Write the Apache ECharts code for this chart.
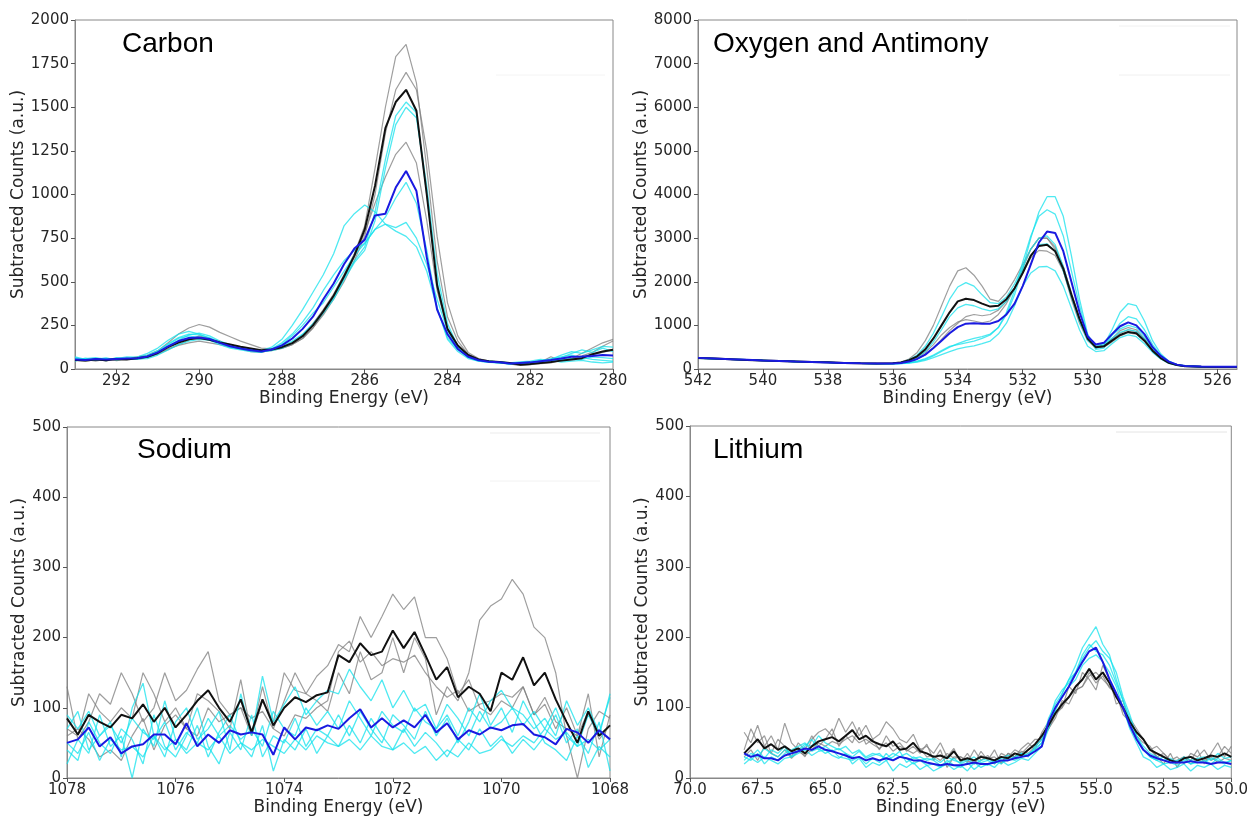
<!DOCTYPE html>
<html>
<head>
<meta charset="utf-8">
<title>XPS spectra</title>
<script src="https://cdn.jsdelivr.net/npm/echarts@6/dist/echarts.min.js"></script>
<style>
  html, body { margin: 0; padding: 0; background: #fff; }
  #chart { width: 1251px; height: 818px; }
</style>
</head>
<body>
<div id="chart"></div>
<script>
// ---- Carbon ----
const carbonX = [293,292.75,292.5,292.25,292,291.75,291.5,291.25,291,290.75,290.5,290.25,290,289.75,289.5,289.25,289,288.75,288.5,288.25,288,287.75,287.5,287.25,287,286.75,286.5,286.25,286,285.75,285.5,285.25,285,284.75,284.5,284.25,284,283.75,283.5,283.25,283,282.75,282.5,282.25,282,281.75,281.5,281.25,281,280.75,280.5,280.25,280];
const carbonGray1 = [55,50,60,45,62,58,70,80, 105,150,200,235, 255,240,210,185, 160,140,120,115, 130,150,190,260, 340,430,540,660, 820,1150,1500,1790, 1860,1640,1150,620, 300,160,85,50, 40,35,30,20, 25,40,70,45, 60,90,120,150, 170];
const carbonGray2 = [48,55,45,58,50,62,55,65, 85,110,140,165, 190,175,160,130, 115,100,95,110, 120,140,175,235, 310,400,500,620, 760,1000,1350,1600, 1700,1600,1250,760, 380,190,95,60, 45,38,30,28, 30,38,45,55, 60,75,95,130, 160];
const carbonGray3 = [50,45,52,60,48,55,65,72, 90,115,135,150, 160,150,140,125, 118,105,98,105, 118,140,175,235, 320,410,520,640, 780,950,1100,1230, 1300,1180,850,450, 230,130,75,50, 42,35,28,22, 25,30,35,50, 55,70,80,95, 110];
const carbonCyan1 = [70,55,60,48,65,58,55,68, 90,130,165,195, 205,190,160,140, 125,110,100,110, 130,160,200,260, 330,410,520,620, 700,900,1200,1450, 1530,1470,1000,500, 230,120,70,50, 42,38,30,35, 30,40,55,80, 100,90,110,130, 125];
const carbonCyan2 = [45,62,50,58,55,62,58,60, 80,110,140,160, 170,165,150,130, 120,110,100,105, 120,150,195,250, 320,400,510,610, 680,850,1150,1400, 1500,1440,1050,550, 260,130,75,50, 45,40,35,30, 38,45,50,65, 90,110,95,120, 100];
const carbonCyan3 = [60,50,55,62,52,58,65,75, 100,140,175,190, 180,165,140,120, 110,100,95,115, 150,200,270,350, 450,540,620,680, 720,800,870,980, 1070,950,680,350, 170,100,60,45, 40,35,30,35, 40,50,45,55, 60,55,70,65, 60];
const carbonCyan4 = [55,60,65,55,60,70,68,90, 120,165,200,215, 200,175,150,130, 120,110,105,125, 170,250,340,440, 540,660,820,890, 940,900,830,790, 760,700,560,350, 180,110,70,50, 45,40,35,40, 45,55,50,40, 45,50,40,35, 40];
const carbonCyan5 = [65,50,58,62,55,60,62,78, 105,145,180,200, 195,180,150,125, 115,105,100,115, 140,190,250,320, 380,470,560,650, 720,800,830,810, 840,750,600,400, 220,120,65,45, 38,35,30,32, 35,45,60,70, 80,65,55,50, 45];
const carbonBlack = [52,48,55,50,57,55,62,70, 92,125,152,170, 178,168,152,140, 128,118,108,112, 125,148,188,250, 330,420,530,650, 800,1050,1380,1530, 1600,1480,1000,480, 230,135,80,55, 45,40,35,25, 28,35,40,48, 55,62,85,100, 110];
const carbonBlue = [55,52,57,55,58,60,62,72, 95,130,160,178, 180,172,150,130, 118,108,100,112, 135,175,230,300, 400,490,600,690, 740,880,890,1040, 1135,1020,640,340, 200,115,70,50, 42,38,32,35, 38,45,52,60, 70,72,75,80, 78];
const carbonTicks = [280, 282, 284, 286, 288, 290, 292];

// ---- Oxygen and Antimony ----
const oxygenX = [542,541.5,541,540.5,540,539.5,539,538.5,538,537.5,537,536.5, 536,535.75,535.5,535.25, 535,534.75,534.5,534.25, 534,533.75,533.5,533.25, 533,532.75,532.5,532.25, 532,531.75,531.5,531.25, 531,530.75,530.5,530.25, 530,529.75,529.5,529.25, 529,528.75,528.5,528.25, 528,527.75,527.5,527.25, 527,526.5,526,525.4];
const oxygenGray1 = [245,230,225,200,190,185,168,158,150,142,130,125, 135,160,230,380, 650,1000,1450,1900, 2250,2320,2150,1900, 1600,1550,1750,2050, 2400,2750,3000,3000, 2800,2350,1750,1150, 700,520,540,680, 820,900,860,680, 430,250,140,90, 65,55,48,45];
const oxygenGray2 = [255,240,220,210,198,180,175,162,150,138,135,128, 125,140,170,230, 330,480,680,880, 1050,1200,1250,1220, 1250,1350,1550,1850, 2200,2550,2720,2700, 2600,2250,1700,1150, 700,500,500,620, 760,830,800,640, 420,250,140,90, 65,50,45,40];
const oxygenGray3 = [250,232,218,208,190,180,170,158,148,140,130,125, 128,145,185,260, 380,560,780,950, 1080,1130,1100,1060, 1100,1250,1500,1850, 2300,2750,3000,3000, 2750,2250,1600,1050, 650,480,520,700, 880,950,900,700, 450,260,150,90, 65,55,45,42];
const oxygenCyan1 = [260,245,225,212,200,185,172,160,150,140,132,125, 130,150,210,320, 520,820,1200,1600, 1880,1980,1900,1700, 1520,1500,1650,1950, 2350,2750,3000,3050, 2850,2350,1700,1100, 680,520,580,780, 920,1000,950,750, 480,280,150,95, 70,55,48,45];
const oxygenCyan2 = [245,232,222,206,195,182,170,158,150,140,130,124, 126,145,190,270, 400,620,900,1200, 1400,1480,1450,1380, 1330,1380,1550,1850, 2250,2600,2850,2870, 2700,2250,1650,1100, 660,500,540,700, 840,900,860,680, 440,260,150,90, 65,52,46,44];
const oxygenCyan3 = [255,238,220,210,196,184,168,160,148,138,128,122, 120,125,140,170, 220,300,400,500, 580,650,700,740, 800,950,1250,1700, 2300,3000,3600,3950, 3950,3500,2600,1600, 800,480,550,900, 1300,1500,1450,1100, 650,350,180,100, 75,55,50,45];
const oxygenCyan4 = [250,240,225,212,194,182,172,158,150,140,130,125, 122,128,145,180, 240,320,420,520, 560,600,640,700, 780,950,1300,1800, 2450,3050,3500,3650, 3550,3050,2250,1450, 750,450,480,780, 1050,1200,1150,900, 560,320,170,100, 70,55,48,45];
const oxygenCyan5 = [248,235,220,208,198,180,170,160,150,138,130,125, 120,125,138,160, 200,260,330,400, 460,500,530,580, 640,800,1050,1450, 1900,2200,2340,2350, 2250,1900,1400,900, 520,400,420,580, 720,780,740,580, 380,230,130,85, 62,50,45,42];
const oxygenBlack = [250,238,222,205,195,182,172,160,152,140,132,128, 130,150,200,290, 450,700,1000,1300, 1550,1610,1580,1500, 1430,1450,1600,1850, 2200,2600,2820,2850, 2700,2300,1700,1150, 700,500,520,650, 780,850,820,650, 420,250,140,90, 65,50,45,45];
const oxygenBlue = [255,240,225,210,195,185,170,160,150,140,130,125, 125,140,170,230, 330,480,650,820, 960,1040,1050,1040, 1040,1100,1250,1500, 1900,2400,2900,3150, 3120,2700,2000,1300, 750,560,600,800, 980,1070,1000,800, 500,300,170,100, 70,55,50,50];
const oxygenTicks = [526, 528, 530, 532, 534, 536, 538, 540, 542];

// ---- Sodium ----
const sodiumX = [1078,1077.8,1077.6,1077.4,1077.2,1077,1076.8,1076.6,1076.4,1076.2,1076,1075.8,1075.6,1075.4,1075.2,1075,1074.8,1074.6,1074.4,1074.2,1074,1073.8,1073.6,1073.4,1073.2,1073,1072.8,1072.6,1072.4,1072.2,1072,1071.8,1071.6,1071.4,1071.2,1071,1070.8,1070.6,1070.4,1070.2,1070,1069.8,1069.6,1069.4,1069.2,1069,1068.8,1068.6,1068.4,1068.2,1068];
const sodiumGray1 = [70,60,120,95,80,100,85,150,120,80,100,70,120,110,95,70,140,60,130,70,110,150,120,145,160,190,180,230,200,230,262,240,258,200,200,170,120,140,100,90,110,100,130,90,115,80,70,60,95,55,75];
const sodiumGray2 = [130,55,80,120,105,150,120,80,100,150,110,125,155,180,110,90,100,60,110,80,150,125,120,110,95,150,120,180,140,150,200,150,200,170,90,130,110,150,225,245,255,283,262,215,200,150,60,0,70,95,85];
const sodiumGray3 = [60,70,55,30,40,25,60,85,40,75,90,70,60,100,80,90,100,85,95,70,60,90,85,100,110,180,195,165,180,160,170,165,175,150,130,115,125,95,105,110,120,115,130,90,105,70,100,60,120,30,90];
const sodiumCyan1 = [70,95,40,60,80,30,100,135,60,30,80,100,55,70,95,40,120,60,145,80,105,130,90,110,125,120,155,130,110,140,100,125,95,105,70,90,60,100,80,110,125,100,90,70,85,60,110,75,100,65,115];
const sodiumCyan2 = [40,25,80,50,35,70,55,20,90,45,30,60,100,45,20,65,40,90,30,60,50,85,45,70,60,90,60,95,70,50,90,75,55,95,60,85,50,80,120,75,100,65,110,80,50,40,25,60,35,80,10];
const sodiumCyan3 = [20,55,35,90,45,60,0,70,45,110,55,40,75,30,65,90,50,30,75,10,55,40,70,35,60,45,75,50,85,60,40,70,45,65,50,30,55,40,70,45,60,35,55,40,60,90,50,70,15,45,30];
const sodiumCyan4 = [90,70,95,60,75,50,85,65,55,80,40,65,50,85,60,75,55,70,45,95,70,60,100,75,95,70,110,85,60,95,75,65,100,80,70,105,85,60,95,70,80,100,75,95,70,100,60,45,90,60,120];
const sodiumCyan5 = [50,35,65,25,55,40,45,30,60,40,55,35,50,40,60,35,50,40,55,45,35,55,40,60,50,45,55,40,60,45,40,50,35,45,25,40,30,50,35,40,55,45,60,50,70,55,65,45,55,40,55];
const sodiumBlack = [85,62,90,80,72,90,85,105,80,100,72,90,110,125,100,80,112,65,112,75,100,115,108,118,122,175,165,192,175,180,210,185,208,175,140,158,115,130,120,95,150,140,172,132,150,112,80,50,95,60,75];
const sodiumBlue = [50,55,72,45,58,35,45,48,62,62,48,78,45,62,50,68,62,65,62,33,72,55,72,68,75,70,85,98,72,85,72,82,72,90,65,78,55,68,62,72,68,75,77,62,58,48,70,65,50,68,55];
const sodiumTicks = [1068, 1070, 1072, 1074, 1076, 1078];

// ---- Lithium ----
const lithiumX = [68,67.75,67.5,67.25,67,66.75,66.5,66.25,66,65.75,65.5,65.25,65,64.75,64.5,64.25,64,63.75,63.5,63.25,63,62.75,62.5,62.25,62,61.75,61.5,61.25,61,60.75,60.5,60.25,60,59.75,59.5,59.25,59,58.75,58.5,58.25,58,57.75,57.5,57.25,57,56.75,56.5,56.25,56,55.75,55.5,55.25,55,54.75,54.5,54.25,54,53.75,53.5,53.25,53,52.75,52.5,52.25,52,51.75,51.5,51.25,51,50.75,50.5,50.25,50];
const lithiumGray1 = [65,50,75,45, 60,40,78,50, 40,30,55,65, 70,60,85,65, 80,60,75,55, 62,80,70,55, 50,62,40,45, 35,50,30,42, 22,35,20,38, 25,40,20,35, 30,42,50,40, 65,80,95,100, 130,120,150,140, 125,160,140,105, 110,75,60,50, 45,30,20,35, 15,30,25,40, 20,35,50,30, 45];
const lithiumGray2 = [40,70,50,60, 35,55,45,30, 50,40,60,45, 55,70,45,60, 50,72,48,55, 40,60,45,50, 38,45,35,48, 25,40,15,30, 30,22,40,25, 32,20,35,30, 40,35,45,55, 55,70,85,110, 105,125,130,150, 135,145,128,120, 95,85,70,55, 40,45,35,25, 30,20,35,30, 40,25,30,45, 35];
const lithiumGray3 = [30,40,25,45, 35,30,40,28, 38,32,40,50, 45,52,48,55, 60,50,55,48, 42,50,38,45, 40,35,42,30, 32,25,35,28, 30,25,20,32, 28,30,22,35, 30,38,35,45, 55,70,90,100, 115,125,130,145, 150,140,130,120, 90,80,65,55, 40,30,35,25, 25,30,20,28, 25,30,22,28, 25];
const lithiumCyan1 = [30,25,35,20, 30,25,35,40, 45,50,38,42, 35,40,30,28, 25,30,20,28, 22,35,25,30, 28,20,25,18, 20,15,25,18, 15,22,12,20, 18,25,20,28, 25,30,35,40, 50,75,95,120, 140,160,185,200, 215,190,175,140, 110,80,55,40, 30,25,20,22, 18,25,20,22, 25,20,28,22, 25];
const lithiumCyan2 = [25,35,30,42, 35,30,40,35, 38,45,55,40, 45,38,42,35, 30,38,28,32, 35,25,30,38, 22,30,25,28, 25,18,22,28, 20,25,30,22, 25,20,28,32, 28,35,30,45, 55,80,110,125, 135,150,170,185, 195,180,170,150, 115,90,60,45, 35,30,25,28, 22,30,25,28, 30,25,35,28, 30];
const lithiumCyan3 = [20,28,22,30, 25,20,28,30, 35,40,32,38, 40,32,28,35, 20,28,15,22, 18,25,10,20, 15,22,12,18, 10,15,20,12, 18,10,22,15, 20,15,25,18, 22,28,25,35, 45,70,100,115, 130,140,160,170, 175,165,150,130, 100,70,50,30, 25,15,20,12, 15,20,10,18, 15,20,12,18, 15];
const lithiumCyan4 = [35,30,40,28, 40,35,45,30, 40,48,45,60, 50,45,40,45, 35,40,30,35, 32,28,35,30, 35,28,30,25, 28,22,30,25, 22,28,20,25, 28,22,30,25, 30,35,32,42, 50,85,105,120, 140,150,175,190, 180,175,160,135, 110,85,60,40, 30,25,30,22, 25,28,20,25, 22,28,25,20, 25];
const lithiumBlack = [35,45,55,42, 48,40,45,38, 42,35,45,52, 55,58,52,60, 68,55,60,52, 48,45,52,40, 42,50,38,35, 30,32,28,38, 25,28,25,30, 28,25,30,28, 35,32,40,48, 60,75,92,105, 115,130,140,155, 140,150,135,115, 100,80,65,55, 40,35,30,25, 22,28,30,25, 28,32,30,35, 30];
const lithiumBlue = [35,30,33,28, 28,25,32,35, 38,42,40,45, 40,38,35,32, 28,30,25,28, 25,28,25,30, 28,25,25,22, 20,18,20,18, 18,20,22,20, 20,22,25,25, 28,30,32,38, 45,80,100,115, 130,148,165,180, 185,165,140,120, 100,75,55,40, 32,28,25,22, 22,22,24,22, 22,20,22,22, 20];
const lithiumTicks = [50, 52.5, 55, 57.5, 60, 62.5, 65, 67.5, 70];

const TXT = '#262626';
const GRAY = 'rgba(125,125,125,0.75)';
const CYAN = 'rgba(20,226,236,0.75)';
const BLACK = '#111111';
const BLUE = '#1a1ae0';

function pairs(xs, ys) {
  return xs.map((x, i) => [x, ys[i]]);
}

function line(k, xs, ys, color, width) {
  return {
    type: 'line',
    xAxisIndex: k,
    yAxisIndex: k,
    data: pairs(xs, ys),
    showSymbol: false,
    symbol: 'none',
    silent: true,
    lineStyle: { color: color, width: width },
  };
}

function panelSeries(k, xs, grays, cyans, black, blue) {
  const out = [];
  grays.forEach(g => out.push(line(k, xs, g, GRAY, 1.2)));
  cyans.forEach(c => out.push(line(k, xs, c, CYAN, 1.3)));
  out.push(line(k, xs, black, BLACK, 2));
  out.push(line(k, xs, blue, BLUE, 2));
  return out;
}

// plain numbers, no thousand separators (matplotlib style)
function xAxisOf(k, min, max, ticks, digits) {
  return {
    type: 'value',
    gridIndex: k,
    inverse: true,
    min: min,
    max: max,
    name: 'Binding Energy (eV)',
    nameLocation: 'middle',
    nameGap: 20,
    nameTextStyle: { fontSize: 17, color: TXT, fontFamily: 'DejaVu Sans' },
    axisLine: { show: true, onZero: false, lineStyle: { color: '#888', width: 1 } },
    axisTick: { show: true, length: 4, customValues: ticks, lineStyle: { color: '#555' } },
    axisLabel: {
      customValues: ticks,
      fontSize: 15,
      color: TXT,
      fontFamily: 'DejaVu Sans',
      margin: 5,
      formatter: v => Number(v).toFixed(digits),
    },
    splitLine: { show: false },
  };
}

function yAxisOf(k, max, step) {
  return {
    type: 'value',
    gridIndex: k,
    min: 0,
    max: max,
    interval: step,
    name: 'Subtracted Counts (a.u.)',
    nameLocation: 'middle',
    nameGap: 39,
    nameTextStyle: { fontSize: 17, color: TXT, fontFamily: 'DejaVu Sans' },
    axisLine: { show: true, lineStyle: { color: '#888', width: 1 } },
    axisTick: { show: true, length: 4, lineStyle: { color: '#555' } },
    axisLabel: { fontSize: 15, color: TXT, fontFamily: 'DejaVu Sans', margin: 6, formatter: v => String(v) },
    splitLine: { show: false },
  };
}

function titleOf(text, left, top) {
  return {
    text: text,
    left: left,
    top: top,
    padding: 0,
    textStyle: { fontSize: 28, fontWeight: 'normal', color: '#000', fontFamily: 'Liberation Sans' },
  };
}

// faint leftovers of an erased legend box
function faint(x1, y1, x2, y2, color) {
  return { type: 'line', shape: { x1, y1, x2, y2 }, style: { stroke: color, lineWidth: 1 }, silent: true };
}

const grids = [
  { left: 75, top: 20, width: 538, height: 349 },
  { left: 698, top: 20, width: 539, height: 349 },
  { left: 67, top: 427, width: 543, height: 351 },
  { left: 690, top: 426, width: 545, height: 352 },
].map(g => Object.assign({ show: true, borderColor: '#888', borderWidth: 1, backgroundColor: 'transparent' }, g));

const option = {
  animation: false,
  backgroundColor: '#fff',
  title: [
    titleOf('Carbon', 122, 30),
    titleOf('Oxygen and Antimony', 713, 30),
    titleOf('Sodium', 137, 436),
    titleOf('Lithium', 713, 436),
  ],
  grid: grids,
  xAxis: [
    xAxisOf(0, 280, 293, carbonTicks, 0),
    xAxisOf(1, 525.4, 542, oxygenTicks, 0),
    xAxisOf(2, 1068, 1078, sodiumTicks, 0),
    xAxisOf(3, 50, 70, lithiumTicks, 1),
  ],
  yAxis: [
    yAxisOf(0, 2000, 250),
    yAxisOf(1, 8000, 1000),
    yAxisOf(2, 500, 100),
    yAxisOf(3, 500, 100),
  ],
  graphic: [
    faint(496, 75, 605, 75, '#f4f4f4'),
    faint(1119, 26, 1230, 26, '#f0f0f0'),
    faint(1119, 75, 1230, 75, '#f0f0f0'),
    faint(490, 433, 600, 433, '#ebebeb'),
    faint(490, 481, 600, 481, '#f2f2f2'),
    faint(1116, 432, 1227, 432, '#e4e4e4'),
  ],
  series: [].concat(
    panelSeries(0, carbonX, [carbonGray1, carbonGray2, carbonGray3],
      [carbonCyan1, carbonCyan2, carbonCyan3, carbonCyan4, carbonCyan5], carbonBlack, carbonBlue),
    panelSeries(1, oxygenX, [oxygenGray1, oxygenGray2, oxygenGray3],
      [oxygenCyan1, oxygenCyan2, oxygenCyan3, oxygenCyan4, oxygenCyan5], oxygenBlack, oxygenBlue),
    panelSeries(2, sodiumX, [sodiumGray1, sodiumGray2, sodiumGray3],
      [sodiumCyan1, sodiumCyan2, sodiumCyan3, sodiumCyan4, sodiumCyan5], sodiumBlack, sodiumBlue),
    panelSeries(3, lithiumX, [lithiumGray1, lithiumGray2, lithiumGray3],
      [lithiumCyan1, lithiumCyan2, lithiumCyan3, lithiumCyan4], lithiumBlack, lithiumBlue)
  ),
};

const chart = echarts.init(document.getElementById('chart'), null, { renderer: 'canvas' });
chart.setOption(option);
</script>
</body>
</html>
